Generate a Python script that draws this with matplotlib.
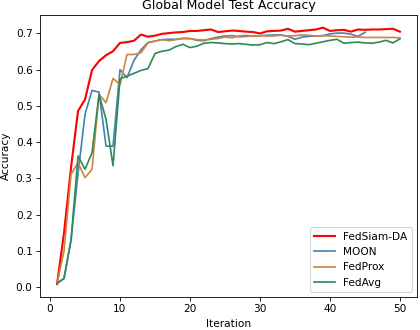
import matplotlib
matplotlib.use("Agg")
import matplotlib.pyplot as plt

# accuracy per iteration
fedsiam = [0.008, 0.15, 0.33, 0.486, 0.518, 0.599, 0.624, 0.64, 0.651, 0.674,
           0.676, 0.68, 0.697, 0.691, 0.694, 0.699, 0.701, 0.703, 0.704, 0.707,
           0.707, 0.709, 0.711, 0.704, 0.706, 0.708, 0.707, 0.705, 0.704, 0.700,
           0.706, 0.707, 0.708, 0.713, 0.705, 0.707, 0.709, 0.711, 0.716, 0.707,
           0.709, 0.710, 0.705, 0.711, 0.710, 0.711, 0.711, 0.712, 0.713, 0.705]
moon = [0.01, 0.024, 0.13, 0.313, 0.477, 0.543, 0.538, 0.389, 0.389, 0.60,
        0.578, 0.626, 0.655, 0.675, 0.679, 0.683, 0.684, 0.684, 0.686, 0.686,
        0.681, 0.680, 0.686, 0.690, 0.693, 0.694, 0.691, 0.692, 0.693, 0.694,
        0.695, 0.696, 0.696, 0.692, 0.684, 0.690, 0.692, 0.693, 0.694, 0.699,
        0.701, 0.701, 0.698, 0.692, 0.703]
fedprox = [0.01, 0.10, 0.311, 0.343, 0.302, 0.325, 0.532, 0.509, 0.576, 0.559,
           0.642, 0.642, 0.647, 0.674, 0.679, 0.683, 0.680, 0.683, 0.687, 0.686,
           0.683, 0.682, 0.684, 0.686, 0.690, 0.688, 0.693, 0.695, 0.692, 0.694,
           0.693, 0.693, 0.695, 0.693, 0.694, 0.696, 0.695, 0.693, 0.694, 0.693,
           0.692, 0.691, 0.690, 0.690, 0.689, 0.689, 0.689, 0.689, 0.689, 0.688]
fedavg = [0.01, 0.024, 0.13, 0.362, 0.325, 0.371, 0.532, 0.463, 0.335, 0.575,
          0.582, 0.590, 0.598, 0.603, 0.645, 0.651, 0.654, 0.664, 0.670, 0.661,
          0.665, 0.673, 0.675, 0.674, 0.672, 0.671, 0.672, 0.670, 0.668, 0.669,
          0.675, 0.672, 0.677, 0.683, 0.672, 0.671, 0.669, 0.673, 0.677, 0.681,
          0.684, 0.673, 0.675, 0.676, 0.674, 0.673, 0.676, 0.681, 0.674, 0.685]

series = [
    ("FedSiam-DA", fedsiam, "red", 2.0),
    ("MOON", moon, "steelblue", 1.6),
    ("FedProx", fedprox, "peru", 1.6),
    ("FedAvg", fedavg, "seagreen", 1.6),
]

fig = plt.figure(figsize=(420 / 76, 330 / 76), dpi=76)
for name, vals, col, lw in series:
    it = range(1, len(vals) + 1)
    plt.plot(it, vals, color=col, lw=lw, label=name)

plt.title("Global Model Test Accuracy")
plt.xlabel("Iteration")
plt.ylabel("Accuracy")
plt.legend(loc="lower right")
plt.subplots_adjust(left=0.095, right=0.993, top=0.955, bottom=0.10)
plt.savefig("out.png")
